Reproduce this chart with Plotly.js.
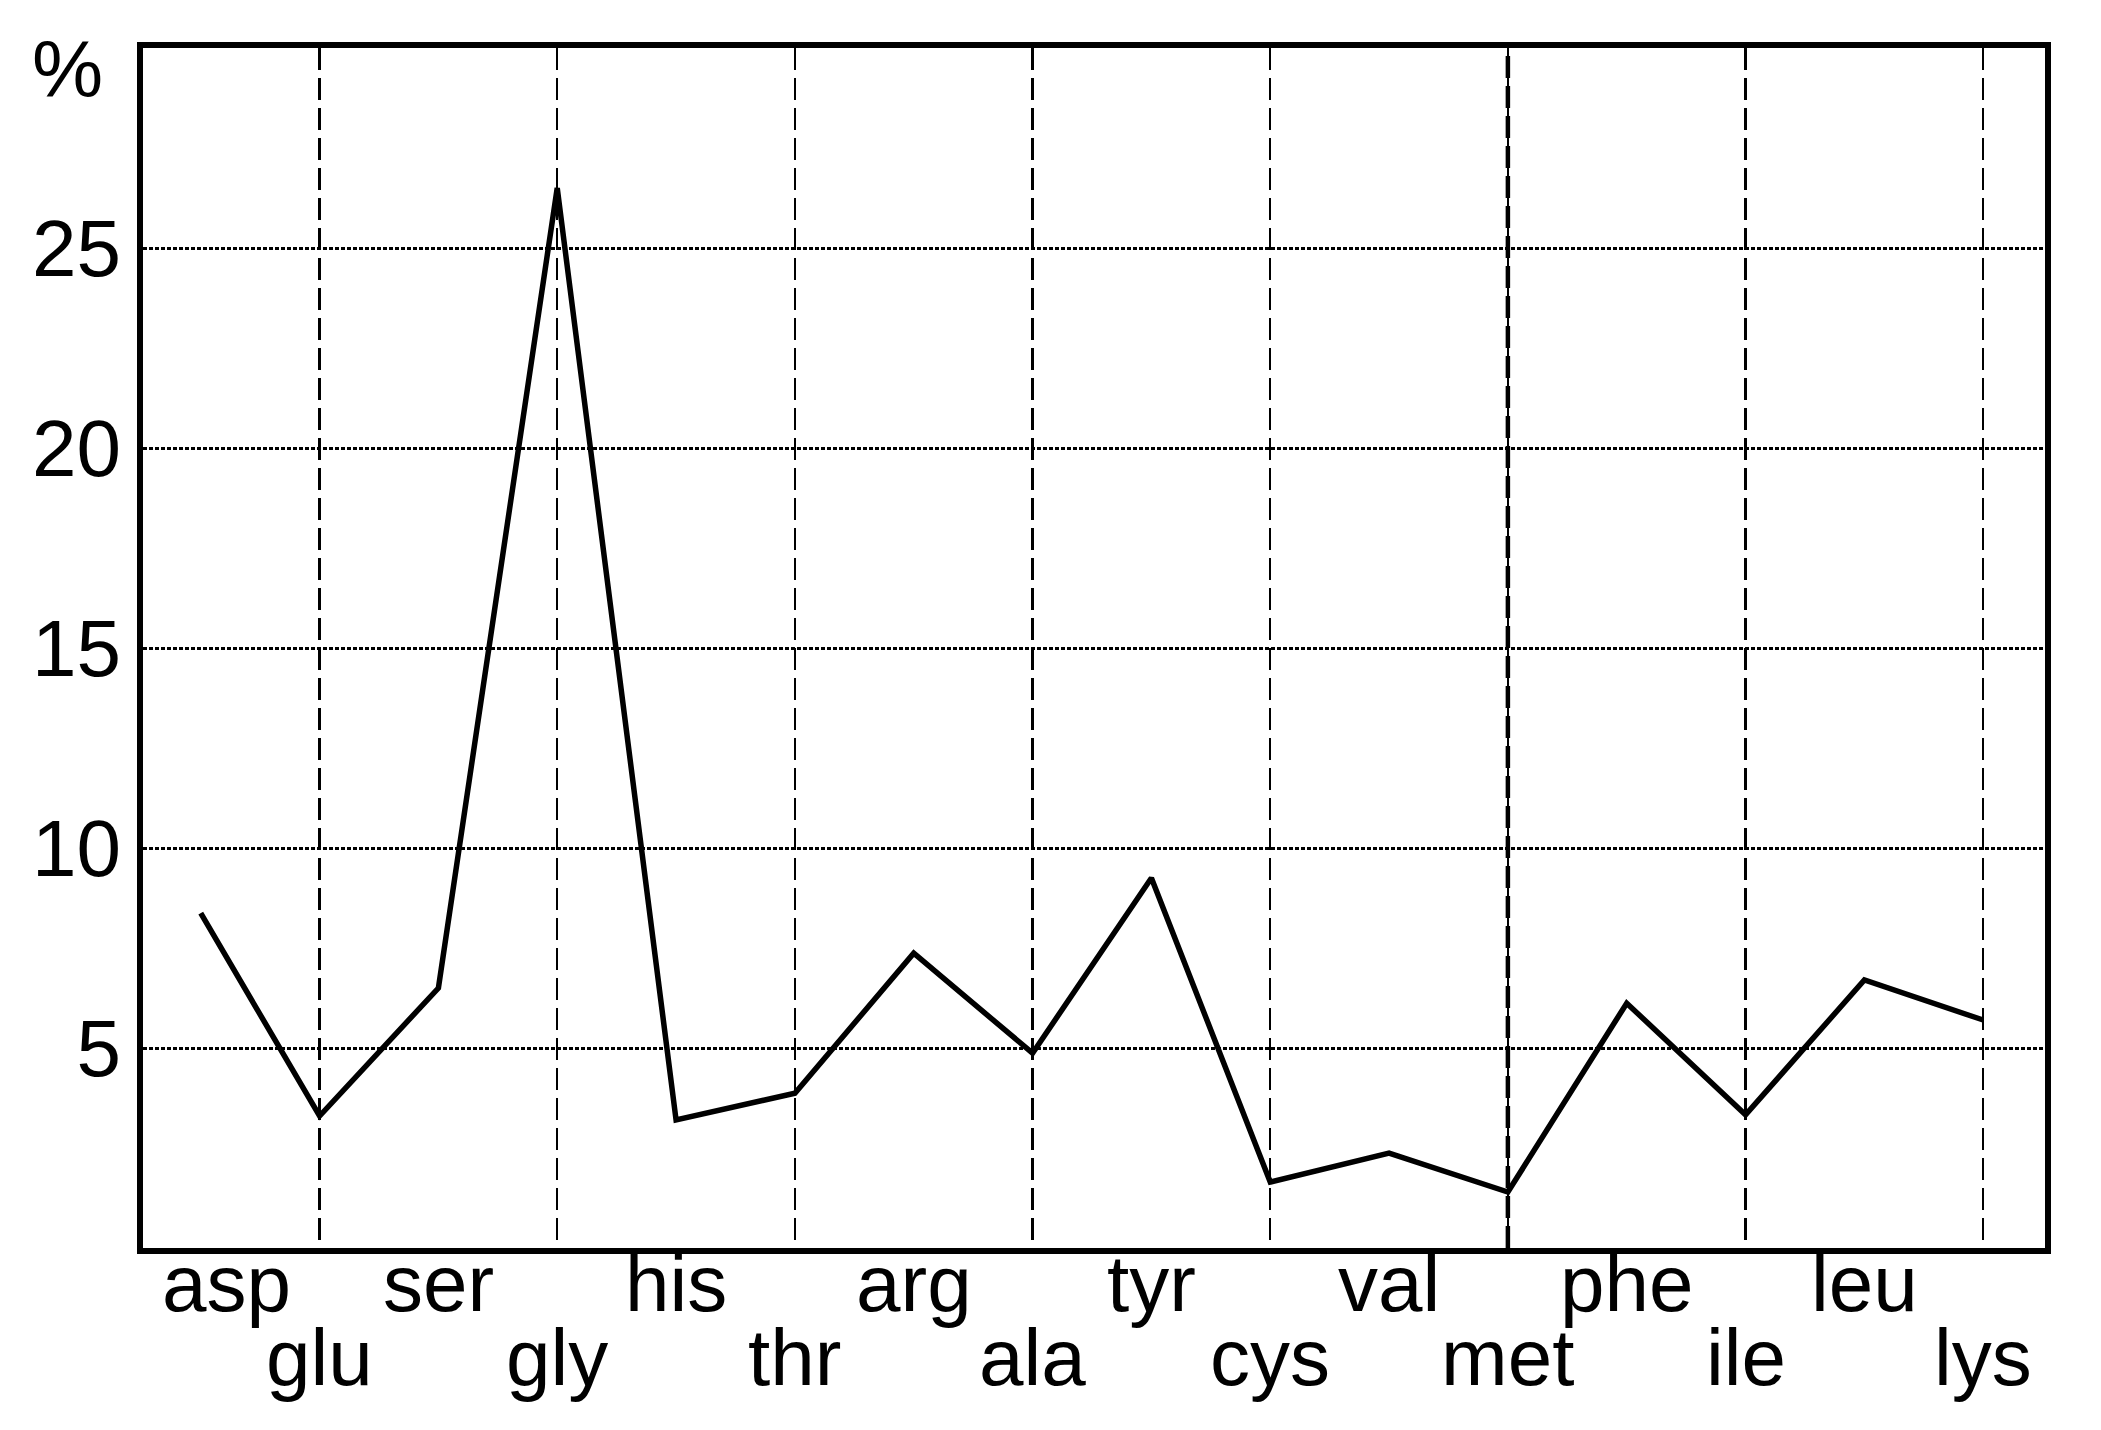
<!DOCTYPE html>
<html>
<head>
<meta charset="utf-8">
<script src="https://cdn.plot.ly/plotly-3.0.1.min.js"></script>
<style>html,body{margin:0;padding:0;background:#fff;}#chart{width:2101px;height:1430px;}</style>
</head>
<body>
<div id="chart"></div>
<script>
// Data
var categories = ["asp","glu","ser","gly","his","thr","arg","ala","tyr","cys","val","met","phe","ile","leu","lys"];
var percentValues = [8.37, 3.3, 6.5, 26.5, 3.2, 3.87, 7.37, 4.87, 9.25, 1.65, 2.37, 1.4, 6.12, 3.33, 6.7, 5.7];
var yTickValues = [5, 10, 15, 20, 25];
var yUnitLabel = "%";
var emphasizedCategory = "met";

var FONT = '"Liberation Sans Narrow", "Arial Narrow", "Liberation Sans", Arial, sans-serif';
var FS = 80;

var gridCats = categories.filter(function(c, i){ return i % 2 === 1; });

var annotations = categories.map(function(c, i){
  return {
    x: c, xref: 'x', y: 0, yref: 'paper',
    text: c, showarrow: false,
    xanchor: 'center', yanchor: 'middle',
    xshift: (i === 0) ? 26 : 0,
    yshift: (i % 2 === 0) ? -35 : -109,
    font: {family: FONT, size: FS, color: '#000'}
  };
});
annotations.push({
  x: 0, xref: 'paper', y: 1, yref: 'paper', text: yUnitLabel, showarrow: false,
  xanchor: 'center', yanchor: 'middle', xshift: -76, yshift: -21,
  font: {family: FONT, size: FS, color: '#000'}
});

var trace = {
  x: categories, y: percentValues, type: 'scatter', mode: 'lines',
  line: {color: '#000', width: 5.5}, hoverinfo: 'skip'
};

var layout = {
  width: 2101, height: 1430,
  margin: {l: 143, r: 56, t: 48, b: 182},
  paper_bgcolor: '#fff', plot_bgcolor: '#fff',
  showlegend: false,
  font: {family: FONT, size: FS, color: '#000'},
  xaxis: {
    type: 'category', range: [-0.486, 15.52],
    tickmode: 'array', tickvals: gridCats, showticklabels: false, ticks: '',
    showgrid: true, gridcolor: '#000', gridwidth: 2.5, griddash: '22px,8px',
    showline: true, mirror: true, linecolor: '#000', linewidth: 6,
    zeroline: false, fixedrange: true
  },
  yaxis: {
    range: [0, 30], tickmode: 'array', tickvals: yTickValues,
    ticks: '', ticklabelstandoff: 0,
    tickfont: {family: FONT, size: FS, color: '#000'},
    showgrid: true, gridcolor: '#000', gridwidth: 3, griddash: '4px,2px',
    showline: true, mirror: true, linecolor: '#000', linewidth: 6,
    zeroline: false, fixedrange: true
  },
  shapes: [{
    type: 'line', xref: 'x', yref: 'paper', x0: emphasizedCategory, x1: emphasizedCategory,
    y0: 0, y1: 1, layer: 'below', line: {color: '#000', width: 4.5, dash: '22px,8px'}
  }],
  annotations: annotations
};

Plotly.newPlot('chart', [trace], layout, {displayModeBar: false, staticPlot: true});
</script>
</body>
</html>
